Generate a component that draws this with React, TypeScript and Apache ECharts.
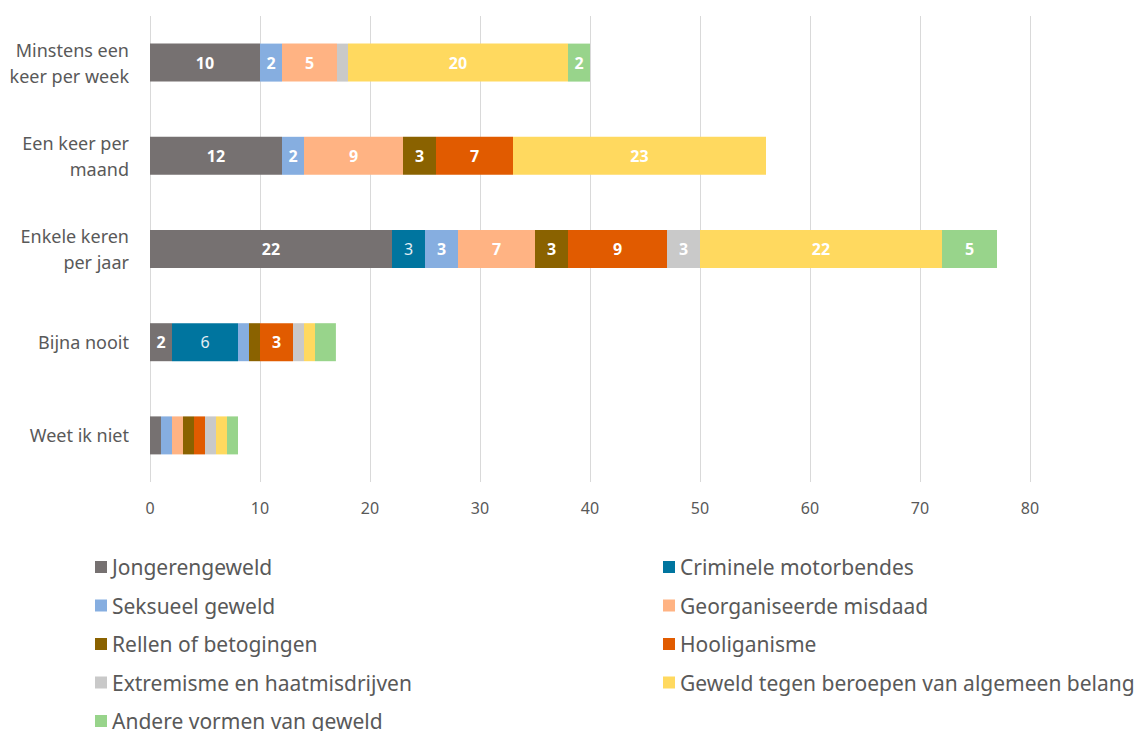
import React, { useEffect, useRef } from "react";
import * as echarts from "echarts";

const categories = ["Minstens een\nkeer per week", "Een keer per\nmaand", "Enkele keren\nper jaar", "Bijna nooit", "Weet ik niet"];
const seriesNames = [
  "Jongerengeweld",
  "Criminele motorbendes",
  "Seksueel geweld",
  "Georganiseerde misdaad",
  "Rellen of betogingen",
  "Hooliganisme",
  "Extremisme en haatmisdrijven",
  "Geweld tegen beroepen van algemeen belang",
  "Andere vormen van geweld",
];
const jongerengeweld = [10, 12, 22, 2, 1];
const crimineleMotorbendes = [0, 0, 3, 6, 0];
const seksueelGeweld = [2, 2, 3, 1, 1];
const georganiseerdeMisdaad = [5, 9, 7, 0, 1];
const rellen = [0, 3, 3, 1, 1];
const hooliganisme = [0, 7, 9, 3, 1];
const extremisme = [1, 0, 3, 1, 1];
const geweldBeroepen = [20, 23, 22, 1, 1];
const andereVormen = [2, 0, 5, 1.9, 1];
const xTicks = [0, 80, 10];

const seriesData = [
  jongerengeweld,
  crimineleMotorbendes,
  seksueelGeweld,
  georganiseerdeMisdaad,
  rellen,
  hooliganisme,
  extremisme,
  geweldBeroepen,
  andereVormen,
];
const colors = ["#767171", "#00759f", "#86aee0", "#ffb383", "#8a6200", "#e15b00", "#c9c9c9", "#ffd95f", "#98d48b"];

const FONT = "'Noto Sans', sans-serif";

export default function App() {
  const ref = useRef<HTMLDivElement>(null);
  useEffect(() => {
    document.body.style.margin = "0";
    const chart = echarts.init(ref.current!, undefined, { renderer: "svg" });
    const series = seriesNames.map((name, i) => ({
      name,
      type: "bar",
      stack: "total",
      barWidth: 38,
      data: seriesData[i],
      itemStyle: { color: colors[i] },
      label: {
        show: true,
        position: "inside",
        color: i === 1 ? "#e4eef4" : "#ffffff",
        fontWeight: i === 1 ? "normal" : "bold",
        fontSize: 16,
        fontFamily: FONT,
        formatter: (p: any) => (p.value >= 2 ? String(Math.round(p.value)) : ""),
      },
    }));
    const legendCommon = {
      orient: "vertical",
      itemWidth: 12,
      itemHeight: 12,
      itemGap: 10.5,
      icon: "rect",
      top: 548,
      height: 200,
      textStyle: { fontSize: 21, lineHeight: 28, color: "#595959", fontFamily: FONT },
    };
    chart.setOption({
      animation: false,
      textStyle: { fontFamily: FONT },
      grid: { left: 150, right: 107, top: 16, bottom: 249 },
      xAxis: {
        type: "value",
        min: xTicks[0],
        max: xTicks[1],
        interval: xTicks[2],
        axisLine: { show: false },
        axisTick: { show: false },
        splitLine: { lineStyle: { color: "#d9d9d9", width: 1 } },
        axisLabel: { color: "#595959", fontSize: 16, margin: 18, fontFamily: FONT },
      },
      yAxis: {
        type: "category",
        data: categories,
        inverse: true,
        axisLine: { show: false },
        axisTick: { show: false },
        axisLabel: { color: "#595959", fontSize: 18, margin: 21, lineHeight: 26, fontFamily: FONT },
      },
      legend: [
        { ...legendCommon, left: 90, data: seriesNames.filter((_, i) => i % 2 === 0) },
        { ...legendCommon, left: 658, data: seriesNames.filter((_, i) => i % 2 === 1) },
      ],
      series,
    });
    return () => chart.dispose();
  }, []);
  return <div ref={ref} style={{ width: 1137, height: 731 }} />;
}
